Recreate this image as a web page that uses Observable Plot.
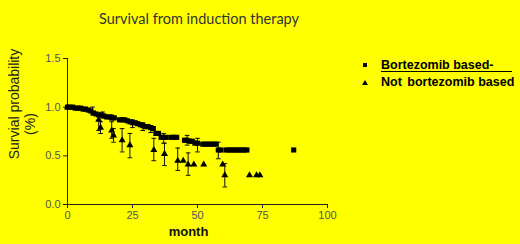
<!DOCTYPE html>
<html>
<head>
<meta charset="utf-8">
<script src="https://cdn.jsdelivr.net/npm/d3@7"></script>
<script src="https://cdn.jsdelivr.net/npm/@observablehq/plot@0.6"></script>
<style>
  html, body { margin: 0; padding: 0; background: #ffff00; }
  #wrap { position: relative; width: 520px; height: 244px; background: #ffff00; overflow: hidden; }
  #wrap svg { position: absolute; left: 0; top: 0; }
  .title { position: absolute; left: 0; width: 398px; top: 10px; text-align: center; font-family: Lato, "Open Sans", sans-serif; font-size: 14.5px; color: #333; white-space: nowrap; }
  .ylab { position: absolute; transform: translate(-50%, -50%) rotate(-90deg); text-align: center; font-family: "Liberation Sans", Arial, sans-serif; font-size: 14px; line-height: 15px; color: #222; white-space: nowrap; }
  .leg { position: absolute; left: 381px; font-family: "Liberation Sans", Arial, sans-serif; font-weight: bold; font-size: 12.5px; color: #000; white-space: pre; }
  .sym { position: absolute; background: #000; }
</style>
</head>
<body>
<div id="wrap">
  <div class="title">Survival from induction therapy</div>
  <div class="ylab" style="left:14px;top:104px;">Survial probability</div>
  <div class="ylab" style="left:30px;top:124px;">(%)</div>
  <div class="sym" style="left:363px;top:63px;width:4px;height:4px;"></div>
  <div class="leg" style="top:58px;">Bortezomib based-</div>
  <div class="sym" style="left:381px;top:71px;width:131px;height:1px;"></div>
  <svg style="position:absolute;left:362px;top:80px" width="6" height="5"><polygon points="3,0 6,5 0,5" fill="#000"/></svg>
  <div class="leg" style="top:75px;">Not <span style="display:inline-block;width:2px"></span>bortezomib based</div>
</div>
<script>
// Bortezomib based (squares)
const sqMonths = [0,1,2,3,4,5,6,7,8,9,10,11,12,13,14,15,16,17,18,20,21,22,23,24,25,26,27,28,29,30,31,32,33,34,35,36,37,38,40,41,42,45,46,47,48,49,50,52,53,54,55,56,57,58,59,61,62,63,64,65,66,67,68,69,87];
const sqSurv   = [1.0,1.0,1.0,0.99,0.99,0.99,0.98,0.98,0.97,0.96,0.94,0.93,0.92,0.92,0.91,0.90,0.90,0.89,0.89,0.87,0.87,0.87,0.86,0.85,0.84,0.84,0.83,0.82,0.81,0.80,0.80,0.79,0.78,0.73,0.73,0.69,0.69,0.69,0.69,0.69,0.69,0.66,0.66,0.65,0.65,0.63,0.63,0.62,0.62,0.62,0.62,0.62,0.62,0.56,0.56,0.56,0.56,0.56,0.56,0.56,0.56,0.56,0.56,0.56,0.56];
const sqErrMonths = [9.6,13.5,17,25,29,32,37,46,50,58];
const sqErrLo     = [0.92,0.89,0.87,0.79,0.76,0.74,0.63,0.61,0.54,0.47];
const sqErrHi     = [1.00,0.95,0.92,0.87,0.84,0.81,0.73,0.71,0.68,0.64];

// Not bortezomib based (triangles)
const triMonths = [0,12,12.7,17,17.7,21,24,33.2,37.3,42.4,44.5,46.4,48.6,52.4,59.7,60.5,70,72.7,74];
const triSurv   = [1.0,0.87,0.79,0.76,0.71,0.66,0.61,0.56,0.52,0.45,0.45,0.41,0.41,0.41,0.41,0.30,0.30,0.30,0.30];
const triErrMonths = [12,12.7,17,17.7,21,24,33.2,37.3,42.4,46.4,60.5];
const triErrLo     = [0.76,0.73,0.68,0.64,0.54,0.48,0.45,0.40,0.35,0.30,0.18];
const triErrHi     = [0.92,0.85,0.85,0.78,0.78,0.73,0.68,0.63,0.58,0.53,0.42];

const xTicks = [0,25,50,75,100];
const yTicks = [0,0.5,1.0,1.5];

const sq = sqMonths.map((m,i)=>({m, s: sqSurv[i]}));
const tri = triMonths.map((m,i)=>({m, s: triSurv[i]}));
const sqErr = sqErrMonths.map((m,i)=>({m, lo: sqErrLo[i], hi: sqErrHi[i]}));
const triErr = triErrMonths.map((m,i)=>({m, lo: triErrLo[i], hi: triErrHi[i]}));
const errs = sqErr.concat(triErr);
const caps = errs.flatMap(d => [{m: d.m, y: d.lo}, {m: d.m, y: d.hi}]);

const chart = Plot.plot({
  width: 520,
  height: 244,
  marginLeft: 67,
  marginRight: 193,
  marginTop: 58,
  marginBottom: 40,
  style: { background: "transparent", fontFamily: "'Liberation Sans', Arial, sans-serif", fontSize: "11px" },
  x: { domain: [0,100] },
  y: { domain: [0,1.5] },
  marks: [
    Plot.ruleX([0], { y1: 0, y2: 1.5, stroke: "#222", strokeWidth: 1 }),
    Plot.ruleY([0], { x1: -1.2, x2: 100, stroke: "#222", strokeWidth: 1 }),
    Plot.axisX({ ticks: xTicks, tickSize: 4, tickPadding: 3, stroke: "#222", color: "#555", label: null }),
    Plot.axisY({ ticks: yTicks, tickSize: 4, tickPadding: 3, tickFormat: d3.format(".1f"), stroke: "#222", color: "#555", label: null }),
    Plot.ruleX(errs, { x: "m", y1: "lo", y2: "hi", stroke: "#111", strokeWidth: 1 }),
    Plot.link(caps, { x1: d => d.m - 0.9, x2: d => d.m + 0.9, y1: "y", y2: "y", stroke: "#111", strokeWidth: 1 }),
    Plot.dot(sq, { x: "m", y: "s", symbol: "square", r: 2.9, fill: "#000", stroke: "none" }),
    Plot.dot(tri, { x: "m", y: "s", symbol: "triangle", r: 2.6, fill: "#000", stroke: "none" }),
    Plot.text(["month"], { frameAnchor: "bottom", dy: 31, dx: -9, fontWeight: "bold", fontSize: 13, fill: "#111" })
  ]
});
document.getElementById("wrap").prepend(chart);
</script>
</body>
</html>
